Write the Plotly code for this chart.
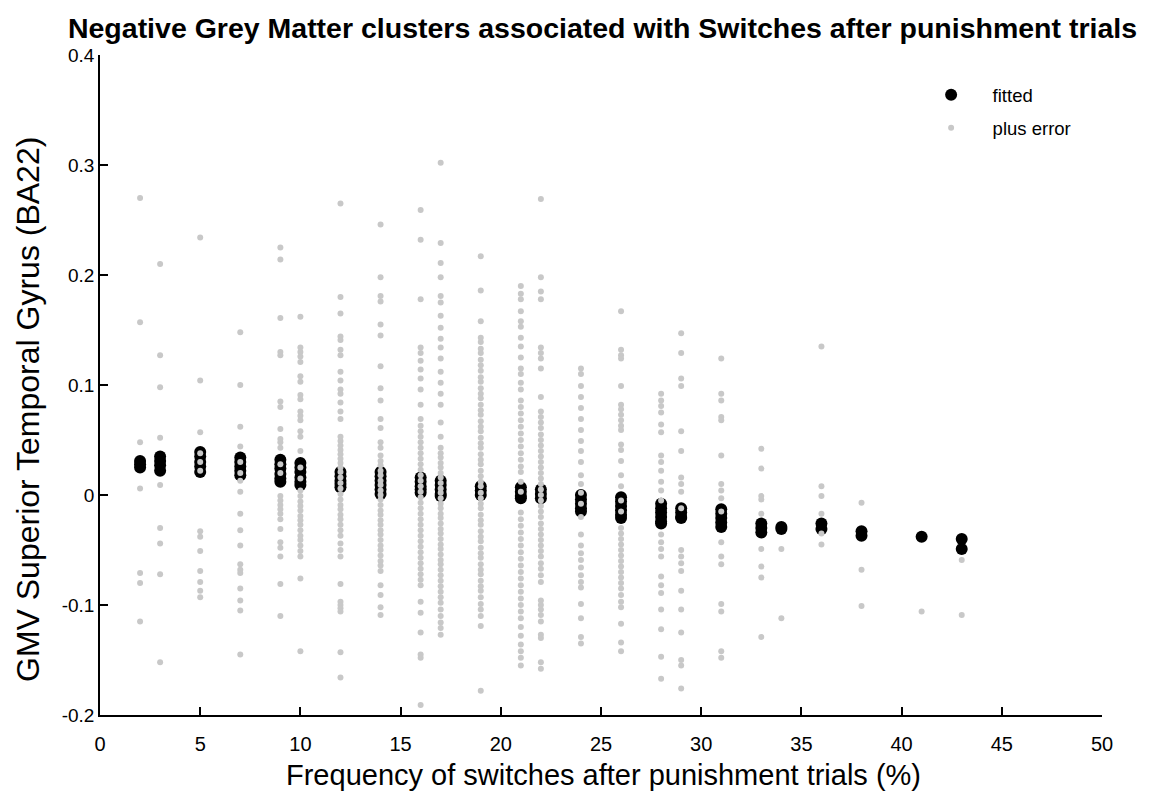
import plotly.graph_objects as go

# Frequency of switches after punishment trials (%) for each column of points
switch_freq = [2, 3, 5, 7, 9, 10, 12, 14, 16, 17, 19, 21, 22, 24, 26, 28, 29, 31, 33, 34, 36, 38, 41, 43]

# Fitted GMV values (black markers) read per column
fitted_by_freq = [
    [0.031, 0.028, 0.025],
    [0.035, 0.031, 0.027, 0.022],
    [0.039, 0.035, 0.030, 0.026, 0.021],
    [0.034, 0.030, 0.026, 0.022, 0.018],
    [0.032, 0.028, 0.024, 0.019, 0.015, 0.012],
    [0.029, 0.025, 0.021, 0.016, 0.012, 0.009],
    [0.021, 0.017, 0.013, 0.010, 0.007],
    [0.021, 0.017, 0.013, 0.009, 0.005, 0.001],
    [0.016, 0.012, 0.008, 0.005, 0.002],
    [0.013, 0.009, 0.005, 0.001, -0.001],
    [0.008, 0.004, 0.000],
    [0.007, 0.003, -0.001, -0.003],
    [0.005, 0.001, -0.003],
    [0.000, -0.004, -0.008, -0.012, -0.015],
    [-0.002, -0.006, -0.010, -0.014, -0.018, -0.021],
    [-0.008, -0.012, -0.016, -0.020, -0.024, -0.026],
    [-0.012, -0.016, -0.020, -0.021],
    [-0.013, -0.017, -0.021, -0.025, -0.029],
    [-0.026, -0.030, -0.034],
    [-0.029, -0.031],
    [-0.026, -0.031],
    [-0.033, -0.037],
    [-0.038],
    [-0.040, -0.049],
]

# Fitted plus error values (grey dots) read per column
plus_error_by_freq = [
    [0.270, 0.157, 0.048, 0.006, -0.071, -0.080, -0.115],
    [0.210, 0.127, 0.098, 0.052, 0.009, -0.030, -0.044, -0.072, -0.152],
    [0.234, 0.104, 0.057, 0.038, 0.030, 0.022, -0.033, -0.038, -0.051, -0.069, -0.079, -0.087, -0.093],
    [0.148, 0.100, 0.062, 0.044, 0.030, 0.020, 0.013, 0.003, -0.017, -0.032, -0.046, -0.063, -0.068,
     -0.071, -0.085, -0.096, -0.105, -0.145],
    [0.225, 0.214, 0.161, 0.130, 0.127, 0.085, 0.080, 0.060, 0.051, 0.048, 0.043, 0.028, 0.020, -0.001,
     -0.005, -0.009, -0.013, -0.017, -0.022, -0.031, -0.043, -0.048, -0.056, -0.081, -0.110],
    [0.162, 0.134, 0.130, 0.126, 0.121, 0.108, 0.103, 0.091, 0.087, 0.076, 0.072, 0.068, 0.058, 0.053,
     0.040, 0.025, 0.015, 0.004, -0.001, -0.006, -0.010, -0.014, -0.019, -0.023, -0.027, -0.032, -0.037,
     -0.041, -0.046, -0.051, -0.056, -0.076, -0.142],
    [0.265, 0.180, 0.165, 0.144, 0.141, 0.132, 0.127, 0.112, 0.104, 0.096, 0.092, 0.084, 0.076, 0.069,
     0.053, 0.049, 0.045, 0.041, 0.037, 0.033, 0.029, 0.025, 0.021, 0.016, 0.011, 0.006, 0.001, -0.004,
     -0.009, -0.013, -0.018, -0.022, -0.027, -0.032, -0.037, -0.044, -0.050, -0.056, -0.081, -0.097,
     -0.100, -0.103, -0.106, -0.143, -0.166],
    [0.246, 0.198, 0.181, 0.176, 0.155, 0.145, 0.117, 0.097, 0.086, 0.069, 0.061, 0.048, 0.043, 0.036,
     0.031, 0.027, 0.022, 0.018, 0.013, 0.009, 0.004, 0.000, -0.004, -0.009, -0.014, -0.018, -0.023,
     -0.027, -0.032, -0.036, -0.041, -0.046, -0.050, -0.055, -0.060, -0.064, -0.069, -0.082, -0.091,
     -0.102, -0.109],
    [0.259, 0.232, 0.178, 0.134, 0.129, 0.122, 0.114, 0.106, 0.096, 0.082, 0.069, 0.063, 0.058, 0.053,
     0.048, 0.043, 0.038, 0.033, 0.028, 0.023, 0.018, 0.013, 0.008, 0.003, -0.002, -0.007, -0.012,
     -0.017, -0.022, -0.027, -0.032, -0.037, -0.042, -0.047, -0.052, -0.057, -0.062, -0.067, -0.072,
     -0.077, -0.082, -0.097, -0.107, -0.125, -0.145, -0.148, -0.191],
    [0.302, 0.229, 0.211, 0.198, 0.181, 0.175, 0.163, 0.152, 0.142, 0.134, 0.124, 0.112, 0.102, 0.092,
     0.082, 0.066, 0.053, 0.043, 0.038, 0.034, 0.029, 0.025, 0.020, 0.016, 0.011, 0.006, 0.002, -0.003,
     -0.008, -0.012, -0.017, -0.021, -0.026, -0.031, -0.035, -0.040, -0.045, -0.049, -0.054, -0.059,
     -0.063, -0.068, -0.073, -0.078, -0.083, -0.088, -0.093, -0.098, -0.104, -0.110, -0.116, -0.121,
     -0.127],
    [0.217, 0.186, 0.158, 0.143, 0.139, 0.133, 0.129, 0.123, 0.118, 0.113, 0.107, 0.103, 0.097, 0.092,
     0.088, 0.082, 0.077, 0.073, 0.067, 0.062, 0.058, 0.052, 0.047, 0.043, 0.037, 0.032, 0.028, 0.022,
     0.017, 0.012, 0.008, 0.002, -0.003, -0.008, -0.012, -0.018, -0.023, -0.027, -0.033, -0.038, -0.042,
     -0.048, -0.053, -0.057, -0.063, -0.068, -0.072, -0.078, -0.083, -0.087, -0.093, -0.099, -0.104,
     -0.110, -0.119, -0.178],
    [0.190, 0.183, 0.178, 0.167, 0.158, 0.153, 0.143, 0.135, 0.125, 0.115, 0.110, 0.102, 0.096, 0.086,
     0.080, 0.074, 0.068, 0.062, 0.056, 0.050, 0.044, 0.038, 0.032, 0.026, 0.021, 0.012, 0.003, -0.016,
     -0.022, -0.028, -0.034, -0.040, -0.046, -0.052, -0.058, -0.064, -0.070, -0.076, -0.082, -0.088,
     -0.094, -0.100, -0.106, -0.112, -0.120, -0.128, -0.136, -0.142, -0.148, -0.155],
    [0.269, 0.198, 0.185, 0.178, 0.134, 0.129, 0.124, 0.115, 0.089, 0.076, 0.071, 0.066, 0.061, 0.055,
     0.050, 0.045, 0.040, 0.035, 0.030, 0.025, 0.020, 0.015, 0.010, 0.005, 0.000, -0.005, -0.010, -0.015,
     -0.020, -0.026, -0.031, -0.036, -0.041, -0.046, -0.051, -0.056, -0.062, -0.067, -0.073, -0.079,
     -0.096, -0.100, -0.104, -0.109, -0.115, -0.127, -0.130, -0.152, -0.158],
    [0.115, 0.110, 0.099, 0.089, 0.079, 0.069, 0.059, 0.049, 0.040, 0.030, 0.018, 0.010, 0.002, -0.008,
     -0.020, -0.036, -0.046, -0.053, -0.059, -0.066, -0.073, -0.079, -0.084, -0.099, -0.112, -0.129,
     -0.135],
    [0.167, 0.132, 0.127, 0.124, 0.099, 0.082, 0.078, 0.073, 0.068, 0.063, 0.059, 0.046, 0.041, 0.031,
     0.018, 0.008, -0.005, -0.015, -0.030, -0.035, -0.040, -0.045, -0.050, -0.055, -0.060, -0.065,
     -0.070, -0.075, -0.080, -0.085, -0.091, -0.097, -0.102, -0.117, -0.134, -0.142],
    [0.092, 0.086, 0.081, 0.075, 0.064, 0.057, 0.036, 0.030, 0.022, 0.012, 0.004, -0.005, -0.036,
     -0.043, -0.049, -0.056, -0.074, -0.082, -0.089, -0.104, -0.122, -0.147, -0.167],
    [0.147, 0.129, 0.106, 0.099, 0.058, 0.040, 0.016, 0.010, 0.003, -0.012, -0.050, -0.056, -0.062,
     -0.069, -0.087, -0.104, -0.125, -0.150, -0.155, -0.176],
    [0.124, 0.092, 0.086, 0.071, 0.068, 0.036, 0.010, 0.004, -0.003, -0.015, -0.043, -0.056, -0.063,
     -0.099, -0.106, -0.142, -0.148],
    [0.042, 0.024, -0.001, -0.004, -0.017, -0.049, -0.065, -0.075, -0.129],
    [-0.049, -0.112],
    [0.135, 0.008, -0.001, -0.017, -0.035, -0.045],
    [-0.007, -0.068, -0.101],
    [-0.106],
    [-0.059, -0.109],
]

x_ticks = [0, 5, 10, 15, 20, 25, 30, 35, 40, 45, 50]
y_ticks = [-0.2, -0.1, 0, 0.1, 0.2, 0.3, 0.4]
y_tick_text = ["-0.2", "-0.1", "0", "0.1", "0.2", "0.3", "0.4"]

title_text = "Negative Grey Matter clusters associated with Switches after punishment trials"
x_title = "Frequency of switches after punishment trials (%)"
y_title = "GMV Superior Temporal Gyrus (BA22)"

FONT = "Liberation Sans, Arial, Helvetica, sans-serif"

fit_x, fit_y, err_x, err_y = [], [], [], []
for f, fv, ev in zip(switch_freq, fitted_by_freq, plus_error_by_freq):
    fit_x += [f] * len(fv)
    fit_y += fv
    err_x += [f] * len(ev)
    err_y += ev

fig = go.Figure()
fig.add_trace(go.Scatter(
    x=fit_x, y=fit_y, mode="markers", name="fitted", legendgroup="a",
    marker=dict(color="black", size=12, line=dict(width=0)),
))
fig.add_trace(go.Scatter(
    x=err_x, y=err_y, mode="markers", name="plus error", legendgroup="b",
    marker=dict(color="rgb(200,200,200)", size=6, line=dict(width=0)),
))

fig.update_layout(
    width=1152, height=807,
    margin=dict(l=100, r=50, t=55, b=92),
    paper_bgcolor="white", plot_bgcolor="white",
    title=dict(text="<b>" + title_text + "</b>", x=0.523, xanchor="center",
               y=1 - 28 / 807, yanchor="middle",
               font=dict(family=FONT, size=28.5, color="black")),
    showlegend=True,
    legend=dict(x=0.808, y=0.968, xanchor="left", yanchor="top",
                bgcolor="rgba(0,0,0,0)", font=dict(family=FONT, size=18.5, color="black"),
                tracegroupgap=6, itemwidth=73),
    xaxis=dict(range=[0, 50], tickvals=x_ticks, ticks="inside", ticklen=8, tickwidth=1.5,
               tickcolor="black", showline=True, linecolor="black", linewidth=1.5,
               showgrid=False, zeroline=False, mirror=False, ticklabelstandoff=10,
               tickfont=dict(family=FONT, size=20, color="black")),
    yaxis=dict(range=[-0.2, 0.4], tickvals=y_ticks, ticktext=y_tick_text, ticks="inside",
               ticklen=8, tickwidth=1.5, tickcolor="black", showline=True, linecolor="black",
               linewidth=1.5, showgrid=False, zeroline=False, mirror=False,
               tickfont=dict(family=FONT, size=19, color="black")),
    annotations=[
        dict(text=x_title, xref="paper", yref="paper", x=0.502, y=(715 - 775) / 660,
             xanchor="center", yanchor="middle", showarrow=False,
             font=dict(family=FONT, size=29, color="black")),
        dict(text=y_title, xref="paper", yref="paper", x=(28 - 100) / 1002, y=(715 - 410) / 660,
             xanchor="center", yanchor="middle", showarrow=False, textangle=-90,
             font=dict(family=FONT, size=32, color="black")),
    ],
)

fig.write_html("out.html", config={"displayModeBar": False},
               post_script="document.body.style.margin='0px';")
